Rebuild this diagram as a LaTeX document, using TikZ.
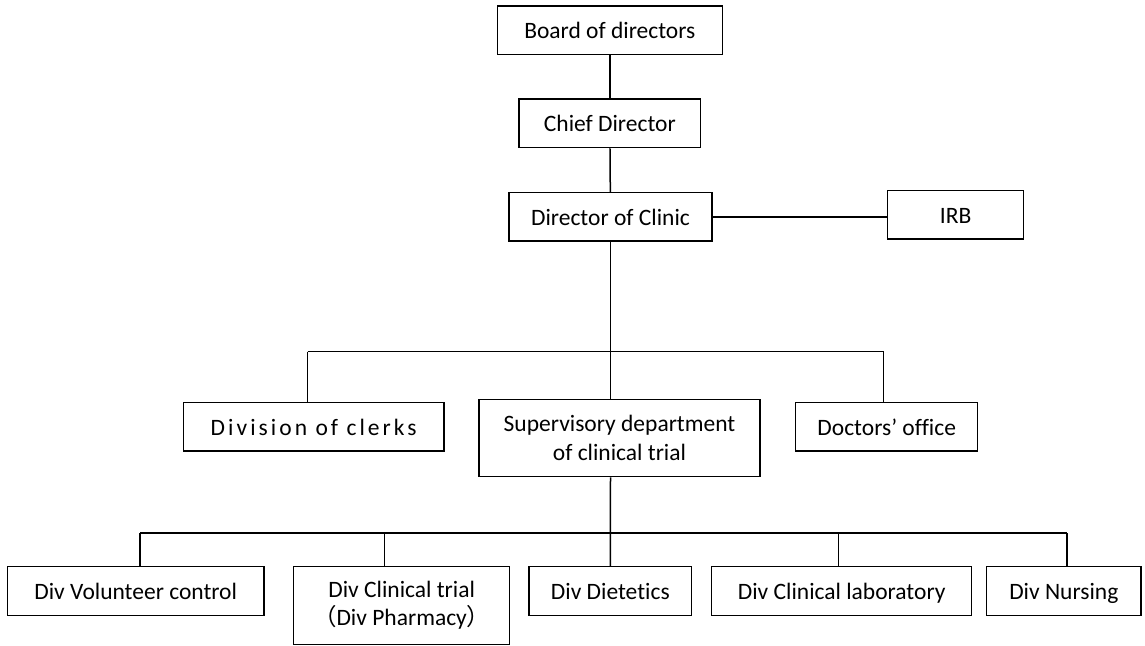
\documentclass[tikz,border=0pt]{standalone}
\usepackage{fontspec}
\setmainfont{Carlito}[RawFeature={-liga;-clig;-dlig}]
\newfontfamily\cjkfont{Noto Sans CJK JP}
\tikzset{
  box/.style={draw, line width=1.5pt, inner sep=0pt, align=center,
    font=\fontsize{23.5}{28.3}\selectfont},
  onebox/.style={box, text height=17pt, text depth=0pt},
  link/.style={line width=1.5pt},
}
\begin{document}
\begin{tikzpicture}[x=1pt,y=-1pt]
\useasboundingbox (0,0) rectangle (1145,645);
% top chain
\node[onebox, minimum width=225pt, minimum height=48.3pt] (board) at (609.8,30.2) {Board of directors};
\node[onebox, minimum width=181.7pt, minimum height=48.7pt] (chief) at (609.8,123.3) {Chief Director};
\node[onebox, minimum width=203pt, minimum height=48.3pt] (dir) at (610.5,216.8) {Director of Clinic};
\node[onebox, minimum width=136pt, minimum height=48.3pt] (irb) at (955.7,214.8) {IRB};
% middle row
\node[onebox, minimum width=260.7pt, minimum height=48.7pt] (clerks) at (313.7,426.7) {\addfontfeature{LetterSpace=13}Division of clerks};
\node[box, minimum width=281pt, minimum height=77.4pt] (sup) at (619.5,438) {Supervisory department\\of clinical trial};
\node[onebox, minimum width=182pt, minimum height=48.3pt] (doc) at (886.7,426.8) {Doctors’ office};
% bottom row
\node[onebox, minimum width=256.7pt, minimum height=49pt] (vol) at (135.7,591.2) {Div Volunteer control};
\node[box, minimum width=216pt, minimum height=77.6pt] (ct) at (401.7,605.5) {Div Clinical trial\\{\cjkfont （}Div Pharmacy{\cjkfont ）}};
\node[onebox, minimum width=162.7pt, minimum height=49pt] (diet) at (610.3,591.2) {Div Dietetics};
\node[onebox, minimum width=260pt, minimum height=49pt] (lab) at (841.7,591.2) {Div Clinical laboratory};
\node[onebox, minimum width=154.3pt, minimum height=49pt] (nurs) at (1063.8,591.2) {Div Nursing};
% bus coordinates
\coordinate (b1l) at (307.7,351.7);
\coordinate (b1r) at (883.7,351.7);
\coordinate (b2a) at (140,533);
\coordinate (b2b) at (384.3,533);
\coordinate (b2d) at (838.3,533);
\coordinate (b2e) at (1067,533);
% connectors
\draw[link] (board) -- (chief);
\draw[link] (chief) -- (dir);
\draw[link] (dir.east) -- (dir.east -| irb.west);
\draw[link] (dir.south) -- (dir.south |- sup.north);
\draw[link] (b1l) -- (b1r);
\draw[link] (b1l) -- (b1l |- clerks.north);
\draw[link] (b1r) -- (b1r |- doc.north);
\draw[link] (dir.south |- sup.south) -- (diet.north);
\draw[link] (b2a) -- (b2e);
\draw[link] (b2a) -- (b2a |- vol.north);
\draw[link] (b2b) -- (b2b |- ct.north);
\draw[link] (b2d) -- (b2d |- lab.north);
\draw[link] (b2e) -- (b2e |- nurs.north);
\end{tikzpicture}
\end{document}
